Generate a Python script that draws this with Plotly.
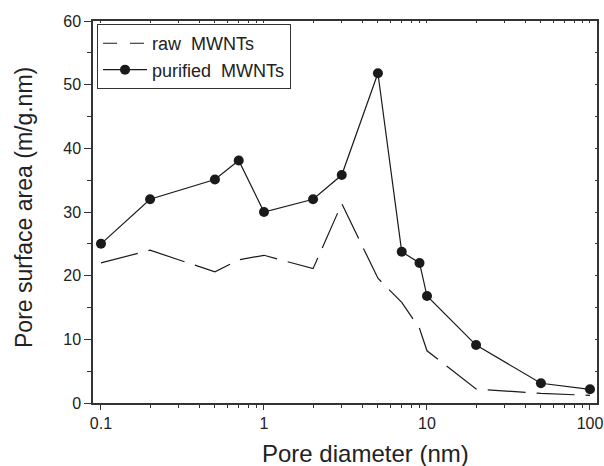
import plotly.graph_objects as go

pore_diameter = [0.1, 0.2, 0.5, 0.7, 1, 2, 3, 5, 7, 9, 10, 20, 50, 100]
raw_area = [22.0, 24.0, 20.6, 22.5, 23.2, 21.1, 31.3, 19.6, 15.8, 11.7, 8.2, 2.2, 1.5, 1.2]
purified_area = [25.0, 32.0, 35.1, 38.1, 30.0, 32.0, 35.8, 51.8, 23.75, 22.0, 16.8, 9.1, 3.1, 2.15]

x_major = [0.1, 1, 10, 100]
x_major_text = ["0.1", "1", "10", "100"]
x_minor = [m * d for d in [0.1, 1, 10] for m in range(2, 10)]
y_major = [0, 10, 20, 30, 40, 50, 60]
y_minor = [5, 15, 25, 35, 45, 55]

x_title = "Pore diameter (nm)"
y_title = "Pore surface area (m/g.nm)"

ink = "#1a1a1a"
axis_ink = "#333333"
text_ink = "#222222"
font = "Liberation Sans, Arial, sans-serif"

fig = go.Figure()
fig.add_trace(go.Scatter(
    x=pore_diameter, y=raw_area, mode="lines", name="raw\u00a0 MWNTs",
    line=dict(color=ink, width=1.2, dash="38px,11px"),
    showlegend=False, legendgroup="raw",
))
# legend entry for the raw series (shorter dash so the sample reads "— —")
fig.add_trace(go.Scatter(
    x=[None], y=[None], mode="lines", name="raw\u00a0 MWNTs",
    line=dict(color=ink, width=1.2, dash="14px,13px"),
    legendgroup="raw",
))
fig.add_trace(go.Scatter(
    x=pore_diameter, y=purified_area, mode="lines+markers", name="purified\u00a0 MWNTs",
    line=dict(color=ink, width=1.2),
    marker=dict(color=ink, size=10, symbol="circle"),
))
# helper trace to anchor the mirrored tick axes
fig.add_trace(go.Scatter(
    x=[1], y=[0], xaxis="x2", yaxis="y2", mode="markers",
    marker=dict(opacity=0), showlegend=False, hoverinfo="skip",
))

xr = [-1.049, 2.043]
fig.update_layout(
    width=604, height=466,
    margin=dict(l=93, r=7, t=21, b=63),
    paper_bgcolor="white", plot_bgcolor="white",
    font=dict(family=font, color=text_ink),
    showlegend=True,
    legend=dict(
        x=0.008, y=0.992, xanchor="left", yanchor="top",
        bordercolor=axis_ink, borderwidth=1, bgcolor="white",
        font=dict(size=18, family=font, color=text_ink),
        itemwidth=44, tracegroupgap=0,
    ),
    xaxis=dict(
        type="log", range=xr, automargin=False,
        tickmode="array", tickvals=x_major, ticktext=x_major_text,
        ticks="outside", ticklen=5, tickwidth=1, tickcolor=axis_ink,
        minor=dict(tickmode="array", tickvals=x_minor, ticks="outside", ticklen=3,
                   tickwidth=1, tickcolor=axis_ink),
        showline=True, linecolor=axis_ink, linewidth=1.5, mirror=True,
        showgrid=False, zeroline=False,
        tickfont=dict(size=16), ticklabeloverflow="allow",
    ),
    yaxis=dict(
        range=[0, 60], automargin=False,
        tickmode="array", tickvals=y_major,
        ticks="outside", ticklen=7, tickwidth=1, tickcolor=axis_ink,
        minor=dict(tickmode="array", tickvals=y_minor, ticks="outside", ticklen=4,
                   tickwidth=1, tickcolor=axis_ink),
        showline=True, linecolor=axis_ink, linewidth=1.5, mirror=True,
        showgrid=False, zeroline=False,
        tickfont=dict(size=16),
    ),
    xaxis2=dict(
        type="log", range=xr, overlaying="x", side="top", anchor="y2",
        tickmode="array", tickvals=x_major + x_minor, showticklabels=False,
        ticks="inside", ticklen=2, tickwidth=1, tickcolor=axis_ink,
        showline=False, showgrid=False, zeroline=False,
    ),
    yaxis2=dict(
        range=[0, 60], overlaying="y", side="right", anchor="x2",
        tickmode="array", tickvals=y_major + y_minor, showticklabels=False,
        ticks="inside", ticklen=2, tickwidth=1, tickcolor=axis_ink,
        showline=False, showgrid=False, zeroline=False,
    ),
    annotations=[
        dict(text=x_title, xref="paper", yref="paper", x=0.54, y=-0.132,
             xanchor="center", yanchor="middle", showarrow=False,
             font=dict(size=24, family=font, color=text_ink)),
        dict(text=y_title, xref="paper", yref="paper", x=-0.137, y=0.513,
             xanchor="center", yanchor="middle", showarrow=False, textangle=-90,
             font=dict(size=23, family=font, color=text_ink)),
    ],
)

fig.write_html(
    "out.html",
    config={"displayModeBar": False},
    post_script="document.body.style.margin='0';document.body.style.overflow='hidden';",
)
